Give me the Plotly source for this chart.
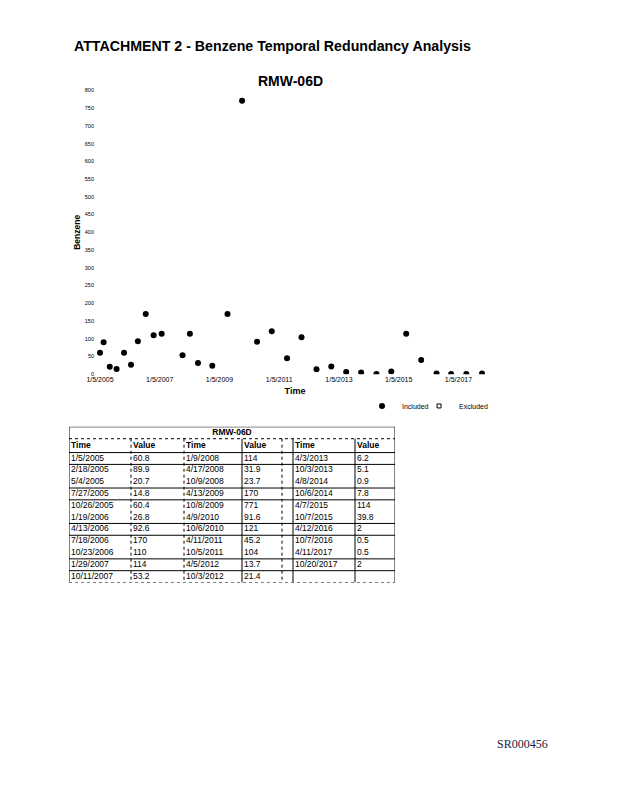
import plotly.graph_objects as go
from datetime import datetime, timedelta

# sample dates and benzene results for RMW-06D
times = ["1/5/2005", "2/18/2005", "5/4/2005", "7/27/2005", "10/26/2005", "1/19/2006",
         "4/13/2006", "7/18/2006", "10/23/2006", "1/29/2007", "10/11/2007",
         "1/9/2008", "4/17/2008", "10/9/2008", "4/13/2009", "10/8/2009", "4/9/2010",
         "10/6/2010", "4/11/2011", "10/5/2011", "4/5/2012", "10/3/2012",
         "4/3/2013", "10/3/2013", "4/8/2014", "10/6/2014", "4/7/2015", "10/7/2015",
         "4/12/2016", "10/7/2016", "4/11/2017", "10/20/2017"]
values = [60.8, 89.9, 20.7, 14.8, 60.4, 26.8, 92.6, 170, 110, 114, 53.2,
          114, 31.9, 23.7, 170, 771, 91.6, 121, 45.2, 104, 13.7, 21.4,
          6.2, 5.1, 0.9, 7.8, 114, 39.8, 2, 0.5, 0.5, 2]

tick_labels = ["1/5/2005", "1/5/2007", "1/5/2009", "1/5/2011", "1/5/2013", "1/5/2015", "1/5/2017"]
y_ticks = list(range(0, 801, 50))
table_headers = ["Time", "Value", "Time", "Value", "Time", "Value"]

# page body has an 8px margin, so the figure is sized to fit inside it
OFF = 8
W, H = 618 - 2 * OFF, 800 - 2 * OFF


def to_date(s):
    return datetime.strptime(s, "%m/%d/%Y")


def px_x(p):
    # measured: the figure shows up slightly right / narrower than asked
    return (p - 17) / 0.985 / W


def px_y(p):
    return 1 - (p - OFF) / H


dates = [to_date(t) for t in times]
tick_dates = [to_date(t) for t in tick_labels]

fig = go.Figure()

fig.add_trace(go.Scatter(
    x=dates, y=values, mode="markers", name="Included",
    marker=dict(color="black", size=6, symbol="circle"),
    xaxis="x", yaxis="y", legend="legend"))
fig.add_trace(go.Scatter(
    x=[None], y=[None], mode="markers", name="Excluded",
    marker=dict(color="white", size=4, symbol="square",
                line=dict(color="black", width=1)),
    xaxis="x", yaxis="y", legend="legend2"))

# ---- data table drawn on its own axes (x2 in px-like units, y2 in rows) ----
col_edges = [69, 131, 184, 242, 282, 293, 355, 395]
text_cols = [0, 1, 2, 3, 5, 6]  # the 5th slot is the narrow blank gap
groups = [(0, 11), (11, 22), (22, 32)]
row_h = 11.9
head_h = 14 / row_h
title_h = 12 / row_h
n_rows = 11

cell_x, cell_y, cell_txt = [], [], []
for g, (a, b) in enumerate(groups):
    for r, i in enumerate(range(a, b)):
        cell_x += [col_edges[text_cols[2 * g]] + 2, col_edges[text_cols[2 * g + 1]] + 2]
        cell_y += [r + 0.5, r + 0.5]
        cell_txt += [times[i], str(values[i])]

fig.add_trace(go.Scatter(
    x=cell_x, y=cell_y, text=cell_txt, mode="text", textposition="middle right",
    textfont=dict(family="Arial", size=8.5, color="black"),
    showlegend=False, hoverinfo="skip", xaxis="x2", yaxis="y2"))
fig.add_trace(go.Scatter(
    x=[col_edges[c] + 2 for c in text_cols], y=[-head_h / 2] * 6,
    text=["<b>%s</b>" % h for h in table_headers], mode="text", textposition="middle right",
    textfont=dict(family="Arial", size=8.5, color="black"),
    showlegend=False, hoverinfo="skip", xaxis="x2", yaxis="y2"))
fig.add_trace(go.Scatter(
    x=[(col_edges[0] + col_edges[-1]) / 2], y=[-head_h - title_h / 2],
    text=["<b>RMW-06D</b>"], mode="text", textposition="middle center",
    textfont=dict(family="Arial", size=8.5, color="black"),
    showlegend=False, hoverinfo="skip", xaxis="x2", yaxis="y2"))

shapes = []
top = -head_h - title_h
line_solid = dict(color="black", width=1)
line_dot = dict(color="black", width=1, dash="dot")
# outer border
shapes.append(dict(type="line", xref="x2", yref="y2", x0=col_edges[0], x1=col_edges[-1],
                   y0=top, y1=top, line=line_solid))
for xe in (col_edges[0], col_edges[-1]):
    shapes.append(dict(type="line", xref="x2", yref="y2", x0=xe, x1=xe,
                       y0=top, y1=n_rows, line=line_solid))
# horizontal rules
shapes.append(dict(type="line", xref="x2", yref="y2", x0=col_edges[0], x1=col_edges[-1],
                   y0=-head_h, y1=-head_h, line=line_dot))
for yr in [0, 1, 3, 4, 6, 7, 9, 10]:
    shapes.append(dict(type="line", xref="x2", yref="y2", x0=col_edges[0], x1=col_edges[-1],
                       y0=yr, y1=yr, line=line_solid))
shapes.append(dict(type="line", xref="x2", yref="y2", x0=col_edges[0], x1=col_edges[-1],
                   y0=n_rows, y1=n_rows, line=line_dot))
# inner vertical rules
for xe, ln in zip(col_edges[1:-1], [line_dot, line_dot, line_solid, line_dot, line_solid, line_solid]):
    shapes.append(dict(type="line", xref="x2", yref="y2", x0=xe, x1=xe,
                       y0=-head_h, y1=n_rows, line=ln))

# x range so 1/5/2005 and 10/20/2017 land where the reference puts them
dom_l, dom_r = 95, 495
px_per_day = (482 - 100) / (dates[-1] - dates[0]).days
x_left = dates[0] - timedelta(days=(100 - dom_l) / px_per_day)
x_right = dates[-1] + timedelta(days=(dom_r - 482) / px_per_day)

tbl_top = 427
tbl_bot = tbl_top + 12 + 14 + row_h * n_rows

legend_style = dict(orientation="h", yanchor="middle", xanchor="left",
                    font=dict(size=7, color="black"), itemwidth=30,
                    bgcolor="rgba(0,0,0,0)")

fig.update_layout(
    width=W, height=H,
    margin=dict(l=0, r=0, t=0, b=0),
    paper_bgcolor="white", plot_bgcolor="white",
    font=dict(family="Arial", color="black"),
    showlegend=True,
    legend=dict(x=px_x(362), y=px_y(406), **legend_style),
    legend2=dict(x=px_x(419), y=px_y(406), **legend_style),
    xaxis=dict(domain=[px_x(dom_l), px_x(dom_r)], range=[x_left, x_right],
               tickvals=tick_dates, ticktext=tick_labels, tickangle=0,
               tickfont=dict(size=7, color="black"), showgrid=False, zeroline=False,
               showline=False, ticks="",
               title=dict(text="<b>Time</b>", font=dict(size=9, color="black"), standoff=5),
               anchor="y"),
    yaxis=dict(domain=[px_y(374), px_y(88)], range=[0, 800],
               tickvals=y_ticks, tickfont=dict(size=5.5, color="black"), showgrid=False,
               zeroline=False, showline=False, ticks="",
               title=dict(text="<b>Benzene</b>", font=dict(size=8.5, color="black"), standoff=2),
               anchor="x"),
    xaxis2=dict(domain=[px_x(col_edges[0]), px_x(col_edges[-1])],
                range=[col_edges[0], col_edges[-1]], visible=False, anchor="y2"),
    yaxis2=dict(domain=[px_y(tbl_bot), px_y(tbl_top)], range=[n_rows, top],
                visible=False, anchor="x2"),
    shapes=shapes,
    annotations=[
        dict(text="<b>ATTACHMENT 2 - Benzene Temporal Redundancy Analysis</b>",
             x=px_x(72), y=px_y(43), xref="paper", yref="paper",
             xanchor="left", yanchor="middle", showarrow=False,
             font=dict(size=14.2, family="Arial", color="black")),
        dict(text="<b>RMW-06D</b>", x=px_x(290), y=px_y(79), xref="paper", yref="paper",
             xanchor="center", yanchor="middle", showarrow=False,
             font=dict(size=14, family="Arial", color="black")),
        dict(text="SR000456", x=px_x(495), y=px_y(747), xref="paper", yref="paper",
             xanchor="left", yanchor="middle", showarrow=False,
             font=dict(size=12, family="Liberation Serif", color="#1a1a40")),
    ],
)

fig.write_html("out.html")
